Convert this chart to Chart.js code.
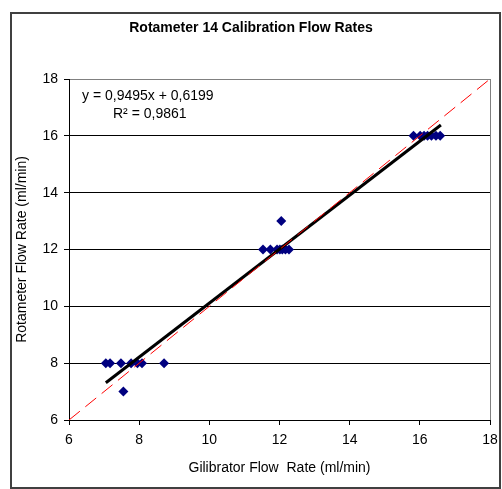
<!DOCTYPE html>
<html>
<head>
<meta charset="utf-8">
<script src="https://cdn.jsdelivr.net/npm/chart.js@4"></script>
<style>
  body { margin: 0; background: #fff; }
  canvas { display: block; }
</style>
</head>
<body>
<canvas id="chart" width="502" height="489"></canvas>
<script>
// Measured points (ml/min)
const gilibrator = [7.05, 7.17, 7.48, 7.55, 7.77, 7.95, 8.08, 8.71,
                    11.53, 11.74, 11.93, 12.01, 12.05, 12.08, 12.17, 12.27,
                    15.82, 16.01, 16.12, 16.22, 16.33, 16.46, 16.58];
const rotameter  = [8, 8, 8, 7, 8, 8, 8, 8,
                    12, 12, 12, 12, 13, 12, 12, 12,
                    16, 16, 16, 16, 16, 16, 16];

// Linear trendline ends (as drawn) and the 1:1 reference line
const trendX = [7.05, 16.6];
const trendY = [7.31, 16.38];
const idealX = [6, 18];
const idealY = [6, 18];

const equationText = ['y = 0,9495x + 0,6199', 'R\u00B2 = 0,9861'];
const axisTicks = [6, 8, 10, 12, 14, 16, 18];

const toPoints = (xs, ys) => xs.map((x, i) => ({ x: x, y: ys[i] }));
const font = 'Liberation Sans, Arial, sans-serif';

// outer frame, plot frame and equation label
const decor = {
    id: 'decor',
    beforeDatasetsDraw(chart) {
        const { ctx, chartArea: a } = chart;
        ctx.save();
        ctx.strokeStyle = '#808080';
        ctx.lineWidth = 1;
        ctx.beginPath();
        ctx.moveTo(a.right + 0.5, a.top);
        ctx.lineTo(a.right + 0.5, a.bottom);
        ctx.stroke();
        ctx.restore();
    },
    afterDraw(chart) {
        const { ctx, chartArea: a } = chart;
        ctx.save();
        ctx.strokeStyle = '#404040';
        ctx.lineWidth = 2;
        ctx.strokeRect(11, 13, 489, 475);
        ctx.fillStyle = '#000';
        ctx.font = '14px ' + font;
        ctx.textBaseline = 'middle';
        ctx.fillText(equationText[0], a.left + 13, 96);
        ctx.fillText(equationText[1], a.left + 44, 114);
        ctx.restore();
    }
};

new Chart(document.getElementById('chart').getContext('2d'), {
    type: 'scatter',
    data: {
        datasets: [{
            label: 'Rotameter 14',
            data: toPoints(gilibrator, rotameter),
            pointStyle: 'rectRot',
            pointRadius: 5,
            backgroundColor: '#000080',
            borderColor: '#000080',
            borderWidth: 0,
            order: 3
        }, {
            label: 'Linear trend',
            type: 'line',
            data: toPoints(trendX, trendY),
            borderColor: '#000',
            borderWidth: 3,
            pointRadius: 0,
            order: 2
        }, {
            label: '1:1',
            type: 'line',
            data: toPoints(idealX, idealY),
            borderColor: '#ff0000',
            borderWidth: 1,
            borderDash: [14, 7],
            pointRadius: 0,
            order: 1
        }]
    },
    options: {
        responsive: false,
        animation: false,
        devicePixelRatio: 1,
        layout: { padding: { left: 12, right: 12, top: 0, bottom: 12 } },
        plugins: {
            legend: { display: false },
            tooltip: { enabled: false },
            title: {
                display: true,
                text: 'Rotameter 14 Calibration Flow Rates',
                color: '#000',
                font: { family: font, size: 14, weight: 'bold', lineHeight: 1.2 },
                padding: { top: 19.5, bottom: 42.7 }
            }
        },
        scales: {
            x: {
                type: 'linear',
                min: 6, max: 18,
                afterBuildTicks: s => { s.ticks = axisTicks.map(v => ({ value: v })); },
                afterFit: s => { s.height = 57; s.paddingLeft = 0; s.paddingRight = 0; },
                ticks: { color: '#000', padding: 7, font: { family: font, size: 14 } },
                grid: { drawOnChartArea: false, drawTicks: true, tickLength: 5, color: '#000' },
                border: { display: true, color: '#000', width: 1 },
                title: {
                    display: true,
                    text: 'Gilibrator Flow  Rate (ml/min)',
                    color: '#000',
                    font: { family: font, size: 14, lineHeight: 1.2 },
                    padding: { top: 0, bottom: 0 }
                }
            },
            y: {
                type: 'linear',
                min: 6, max: 18,
                afterBuildTicks: s => { s.ticks = axisTicks.map(v => ({ value: v })); },
                afterFit: s => { s.width = 57; },
                ticks: { color: '#000', padding: 6, font: { family: font, size: 14 } },
                grid: {
                    drawTicks: true,
                    tickLength: 5,
                    color: c => (c.tick && c.tick.value === 18 ? '#808080' : '#000'),
                    tickColor: '#000'
                },
                border: { display: true, color: '#000', width: 1 },
                title: {
                    display: true,
                    text: 'Rotameter Flow Rate (ml/min)',
                    color: '#000',
                    font: { family: font, size: 14, lineHeight: 1.2 },
                    padding: { top: 2, bottom: 0 }
                }
            }
        }
    },
    plugins: [decor]
});
</script>
</body>
</html>
